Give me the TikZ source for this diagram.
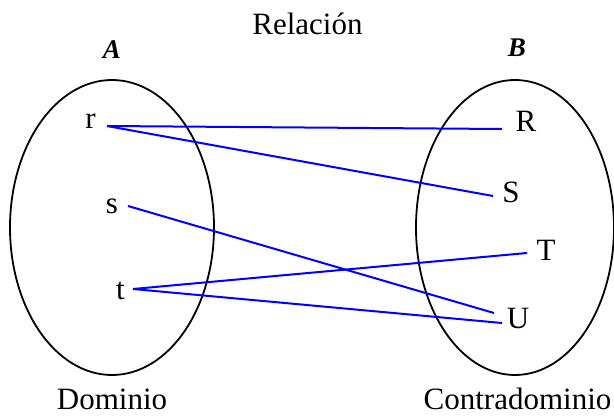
\documentclass[tikz,border=0pt]{standalone}
\usepackage{fontspec}
\setmainfont{Liberation Serif}
\begin{document}
\begin{tikzpicture}[x=1pt,y=-1pt,
  lbl/.style={font=\fontsize{31}{37}\selectfont, inner sep=0pt, anchor=base},
  setname/.style={font=\fontsize{27}{32}\selectfont\bfseries\itshape, inner sep=0pt, anchor=base},
  setshape/.style={draw=black, line width=1.8pt},
  rel/.style={draw=blue, line width=2pt}]
\useasboundingbox (0,0) rectangle (614,417);
% sets
\draw[setshape] (112,227.5) ellipse [x radius=102pt, y radius=147.5pt];
\draw[setshape] (515,227.5) ellipse [x radius=99pt, y radius=147.5pt];
% titles
\node[lbl] (title) at (307.5,35) {Relación};
\node[setname] (A) at (112,59) {A};
\node[setname] (B) at (517,57) {B};
\node[lbl] (dom) at (112,409) {Dominio};
\node[lbl] (cod) at (517.5,409) {Contradominio};
% elements
\node[lbl] (r) at (90.5,129) {r};
\node[lbl] (s) at (112,214) {s};
\node[lbl] (t) at (120.5,300) {t};
\node[lbl] (R) at (526,132) {R};
\node[lbl] (S) at (511,203) {S};
\node[lbl] (T) at (546,261) {T};
\node[lbl] (U) at (518,328) {U};
% connector end points beside the labels
\coordinate (r-o) at (107,126);
\coordinate (s-o) at (128,206);
\coordinate (t-o) at (133,289);
\coordinate (R-i) at (502,129);
\coordinate (S-i) at (493,196);
\coordinate (T-i) at (527,253);
\coordinate (U-i1) at (494,313);
\coordinate (U-i2) at (502,323);
% relation
\draw[rel] (r-o) -- (R-i);
\draw[rel] (r-o) -- (S-i);
\draw[rel] (s-o) -- (U-i1);
\draw[rel] (t-o) -- (T-i);
\draw[rel] (t-o) -- (U-i2);
\end{tikzpicture}
\end{document}
